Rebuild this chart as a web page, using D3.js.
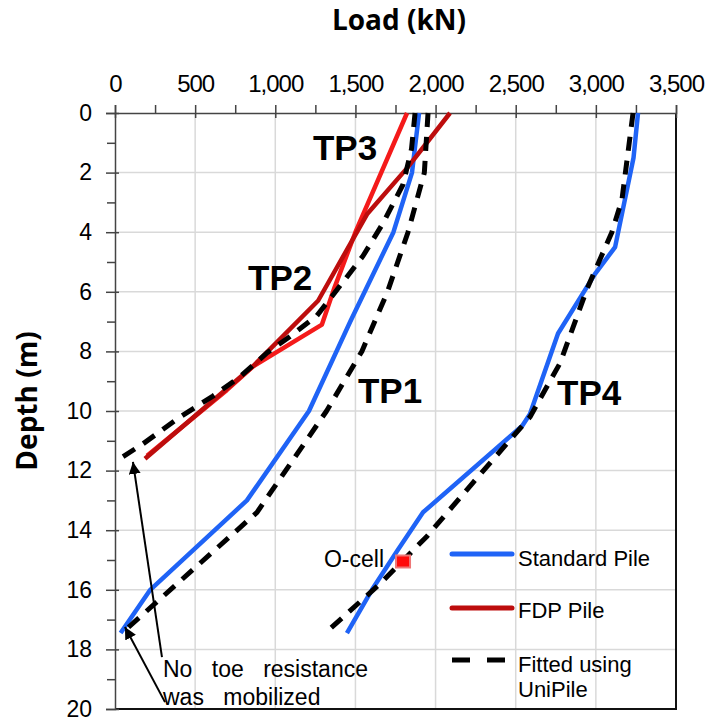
<!DOCTYPE html>
<html>
<head>
<meta charset="utf-8">
<script src="https://cdn.jsdelivr.net/npm/d3@7"></script>
<style>
  body { margin: 0; background: #fff; }
  text { font-family: "Liberation Sans", Arial, sans-serif; }
</style>
</head>
<body>
<div id="chart"></div>
<script>
// each point is [depth (m), load (kN)]
var tp1Standard = [[0, 1897], [2, 1853], [4, 1737], [7, 1468], [10, 1210], [13, 823], [16, 220], [17.45, 35]];
var tp1Fit = [[0, 1953], [2, 1930], [4, 1828], [6, 1700], [8, 1540], [10, 1320], [13.4, 886], [17.45, 44]];
var tp2Fdp = [[0, 1822], [4, 1500], [5.85, 1370], [7.1, 1291], [8.5, 862], [9.3, 697], [11.5, 200]];
var tp3Fdp = [[0, 2090], [1.85, 1822], [3.4, 1572], [6.3, 1267], [8.5, 861], [11.6, 187]];
var tp23Fit = [[0, 1872], [1.2, 1850], [2.4, 1797], [3.7, 1672], [4.8, 1547], [5.8, 1404], [6.8, 1260],
               [7.5, 1092], [8.05, 948], [8.85, 780], [9.5, 611], [10.2, 406], [11.1, 175], [11.55, 44]];
var tp4Standard = [[0, 3263], [1.5, 3235], [4.5, 3120], [5.4, 2995], [7.4, 2764], [10.1, 2589], [10.5, 2540],
                   [13.4, 1922], [14.7, 1760], [16, 1603], [17.45, 1447]];
var tp4Fit = [[0, 3232], [2.9, 3163], [4.0, 3100], [5.9, 2945], [8.4, 2776], [10.2, 2589], [12.4, 2234],
              [14.2, 1947], [15.8, 1653], [17.4, 1323]];
var oCell = [15.05, 1797];

var loadTicks = [0, 500, 1000, 1500, 2000, 2500, 3000, 3500];
var loadMinor = [250, 750, 1250, 1750, 2250, 2750, 3250];
var depthTicks = [0, 2, 4, 6, 8, 10, 12, 14, 16, 18, 20];
var depthMinor = [1, 3, 5, 7, 9, 11, 13, 15, 17, 19];

// pile labels: [text, load, depth]
var pileLabels = [['TP3', 1235, 1.58], ['TP2', 830, 5.94], ['TP1', 1516, 9.73], ['TP4', 2758, 9.8]];

var chart_width = 710;
var chart_height = 722;
var plotLeft = 115, plotTop = 113, plotRight = 676, plotBottom = 709;

var svg = d3.select('#chart')
			.append('svg')
			.attr('width', chart_width)
			.attr('height', chart_height);

var x_scale = d3.scaleLinear().domain([0, 3500]).range([plotLeft, plotRight]);
var y_scale = d3.scaleLinear().domain([0, 20]).range([plotTop, plotBottom]);

// grid
svg.append('g').selectAll('line')
	.data(loadTicks.slice(1, -1))
	.enter().append('line')
	.attr('x1', function(d){ return x_scale(d); })
	.attr('x2', function(d){ return x_scale(d); })
	.attr('y1', plotTop).attr('y2', plotBottom)
	.attr('stroke', '#d9d9d9').attr('stroke-width', 1.5);
svg.append('g').selectAll('line')
	.data(depthTicks.slice(1, -1))
	.enter().append('line')
	.attr('y1', function(d){ return y_scale(d); })
	.attr('y2', function(d){ return y_scale(d); })
	.attr('x1', plotLeft).attr('x2', plotRight)
	.attr('stroke', '#d9d9d9').attr('stroke-width', 1.5);

// frame right / bottom
svg.append('path')
	.attr('d', 'M' + plotLeft + ',' + plotBottom + 'H' + plotRight + 'V' + plotTop)
	.attr('fill', 'none').attr('stroke', '#111').attr('stroke-width', 2);

// x axis on top
var x_axis = d3.axisTop(x_scale).tickValues(loadTicks).tickSize(8).tickPadding(13)
			   .tickFormat(d3.format(','));
var gx = svg.append('g')
   .attr('transform', 'translate(0,' + plotTop + ')')
   .call(x_axis);
gx.selectAll('.tick line').attr('y1', 5);
svg.append('g')
   .attr('transform', 'translate(0,' + plotTop + ')')
   .call(d3.axisTop(x_scale).tickValues(loadMinor).tickSize(8).tickFormat(''))
   .select('.domain').remove();

// y axis
var y_axis = d3.axisLeft(y_scale).tickValues(depthTicks).tickSize(9).tickPadding(14);
var gy = svg.append('g')
   .attr('transform', 'translate(' + plotLeft + ',0)')
   .call(y_axis);
gy.selectAll('.tick line').attr('x1', 4);
svg.append('g')
   .attr('transform', 'translate(' + plotLeft + ',0)')
   .call(d3.axisLeft(y_scale).tickValues(depthMinor).tickSize(8).tickFormat(''))
   .select('.domain').remove();

svg.selectAll('.domain').attr('stroke', '#444').attr('stroke-width', 1.5);
svg.selectAll('.tick line').attr('stroke', '#444').attr('stroke-width', 1.5);
gx.selectAll('text').attr('font-size', 24).attr('letter-spacing', -1)
  .attr('font-family', '"Liberation Sans", Arial, sans-serif').attr('fill', '#000');
gy.selectAll('text').attr('font-size', 23)
  .attr('font-family', '"Liberation Sans", Arial, sans-serif').attr('fill', '#000');

// axis titles
svg.append('text')
   .attr('x', 399).attr('y', 30)
   .attr('text-anchor', 'middle')
   .style('font-family', '"Open Sans", sans-serif')
   .attr('font-weight', 'bold').attr('font-size', 28)
   .text('Load (kN)');
svg.append('text')
   .attr('transform', 'translate(37,401) rotate(-90)')
   .attr('text-anchor', 'middle')
   .style('font-family', '"Open Sans", sans-serif')
   .attr('font-weight', 'bold').attr('font-size', 28)
   .text('Depth (m)');

// lines
var line = d3.line()
	.x(function(d){ return x_scale(d[1]); })
	.y(function(d){ return y_scale(d[0]); });

var series = [
	{ data: tp1Standard, color: '#1f63f6', dash: null },
	{ data: tp4Standard, color: '#1f63f6', dash: null },
	{ data: tp2Fdp, color: '#f41a1a', dash: null },
	{ data: tp3Fdp, color: '#bd0d0d', dash: null },
	{ data: tp1Fit, color: '#000', dash: '14,10' },
	{ data: tp23Fit, color: '#000', dash: '14,10' },
	{ data: tp4Fit, color: '#000', dash: '14,10' }
];
svg.append('g').selectAll('path')
	.data(series)
	.enter().append('path')
	.attr('d', function(d){ return line(d.data); })
	.attr('fill', 'none')
	.attr('stroke', function(d){ return d.color; })
	.attr('stroke-width', function(d){ return d.dash ? 5 : 4.5; })
	.attr('stroke-dasharray', function(d){ return d.dash; })
	.attr('stroke-linejoin', 'round');

// O-cell marker
svg.append('rect')
   .attr('x', x_scale(oCell[1]) - 7).attr('y', y_scale(oCell[0]) - 6)
   .attr('width', 14).attr('height', 12)
   .attr('fill', '#ff0a0a').attr('stroke', '#ee7777').attr('stroke-width', 2);
svg.append('text')
   .attr('x', x_scale(oCell[1]) - 19).attr('y', y_scale(oCell[0]) + 6)
   .attr('text-anchor', 'end').attr('font-size', 23)
   .text('O-cell');

// pile labels
svg.append('g').selectAll('text')
	.data(pileLabels)
	.enter().append('text')
	.attr('x', function(d){ return x_scale(d[1]); })
	.attr('y', function(d){ return y_scale(d[2]); })
	.attr('font-size', 35).attr('font-weight', 'bold')
	.text(function(d){ return d[0]; });

// arrows
svg.append('defs').append('marker')
   .attr('id', 'head')
   .attr('viewBox', '0 0 10 10')
   .attr('refX', 10).attr('refY', 5)
   .attr('markerWidth', 6).attr('markerHeight', 6)
   .attr('markerUnits', 'strokeWidth')
   .attr('orient', 'auto')
   .append('path').attr('d', 'M0,0L10,5L0,10Z').attr('fill', '#000');
var arrows = [[[293, 18.26], [112, 11.71]], [[312, 19.77], [62, 17.25]]];
svg.append('g').selectAll('line')
	.data(arrows)
	.enter().append('line')
	.attr('x1', function(d){ return x_scale(d[0][0]); })
	.attr('y1', function(d){ return y_scale(d[0][1]); })
	.attr('x2', function(d){ return x_scale(d[1][0]); })
	.attr('y2', function(d){ return y_scale(d[1][1]); })
	.attr('stroke', '#000').attr('stroke-width', 2)
	.attr('marker-end', 'url(#head)');
svg.append('text').attr('x', 163).attr('y', 677).attr('font-size', 23)
   .attr('word-spacing', 13).text('No toe resistance');
svg.append('text').attr('x', 163).attr('y', 705).attr('font-size', 23)
   .attr('word-spacing', 13).text('was mobilized');

// legend
var legend = svg.append('g');
legend.append('line').attr('x1', 452).attr('x2', 512).attr('y1', 554).attr('y2', 554)
	.attr('stroke', '#1f63f6').attr('stroke-width', 5).attr('stroke-linecap', 'round');
legend.append('text').attr('x', 518).attr('y', 566).attr('font-size', 22).text('Standard Pile');
legend.append('line').attr('x1', 452).attr('x2', 512).attr('y1', 608).attr('y2', 608)
	.attr('stroke', '#bd0d0d').attr('stroke-width', 5).attr('stroke-linecap', 'round');
legend.append('text').attr('x', 518).attr('y', 618).attr('font-size', 22).text('FDP Pile');
legend.append('line').attr('x1', 452).attr('x2', 510).attr('y1', 660).attr('y2', 660)
	.attr('stroke', '#000').attr('stroke-width', 5).attr('stroke-dasharray', '18,17');
legend.append('text').attr('x', 518).attr('y', 672).attr('font-size', 22).text('Fitted using');
legend.append('text').attr('x', 518).attr('y', 697).attr('font-size', 22).text('UniPile');
</script>
</body>
</html>
